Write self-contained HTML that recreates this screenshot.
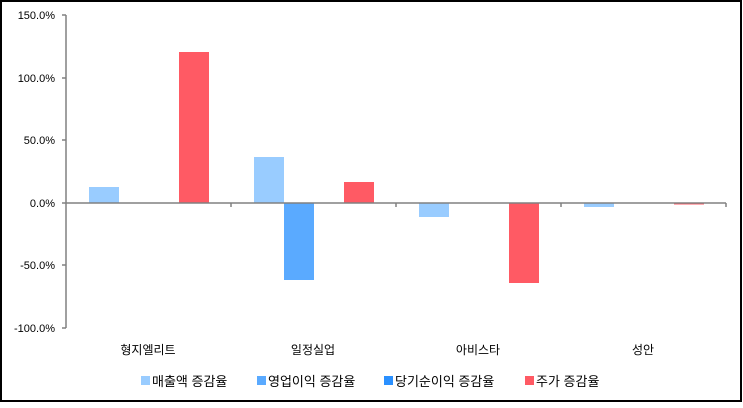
<!DOCTYPE html>
<html><head><meta charset="utf-8"><style>
html,body{margin:0;padding:0;background:#fff}
svg text{font-family:"Liberation Sans","Noto Sans CJK KR",sans-serif;fill:#000}
</style></head><body>
<svg width="743" height="403" xmlns="http://www.w3.org/2000/svg">
<rect x="1" y="1" width="740" height="400" fill="#fff" stroke="#000" stroke-width="2"/>
<g font-size="11" text-anchor="end">
<text x="55" y="19">150.0%</text>
<text x="55" y="82">100.0%</text>
<text x="55" y="144">50.0%</text>
<text x="55" y="207">0.0%</text>
<text x="55" y="269">-50.0%</text>
<text x="55" y="332">-100.0%</text>
</g>
<g stroke="#808080" stroke-width="1.5" fill="none">
<line x1="66" y1="15" x2="66" y2="328"/>
<line x1="62" y1="15" x2="66" y2="15"/>
<line x1="62" y1="78" x2="66" y2="78"/>
<line x1="62" y1="140" x2="66" y2="140"/>
<line x1="62" y1="203" x2="66" y2="203"/>
<line x1="62" y1="265" x2="66" y2="265"/>
<line x1="62" y1="328" x2="66" y2="328"/>
</g>
<rect x="89" y="187" width="30" height="16" fill="#99ccff"/>
<rect x="179" y="52" width="30" height="151" fill="#ff5a64"/>
<rect x="254" y="157" width="30" height="46" fill="#99ccff"/>
<rect x="284" y="203" width="30" height="77" fill="#5aaaff"/>
<rect x="344" y="182" width="30" height="21" fill="#ff5a64"/>
<rect x="419" y="203" width="30" height="14" fill="#99ccff"/>
<rect x="509" y="203" width="30" height="80" fill="#ff5a64"/>
<rect x="584" y="203" width="30" height="4" fill="#99ccff"/>
<rect x="674" y="203" width="30" height="1.5" fill="#ff5a64"/>
<g stroke="#808080" stroke-width="1.5">
<line x1="66" y1="203" x2="726" y2="203"/>
<line x1="231" y1="203" x2="231" y2="207"/>
<line x1="396" y1="203" x2="396" y2="207"/>
<line x1="561" y1="203" x2="561" y2="207"/>
<line x1="726" y1="203" x2="726" y2="207"/>
</g>
<g font-size="12" text-anchor="middle">
<text x="148" y="354">형지엘리트</text>
<text x="313" y="354">일정실업</text>
<text x="478" y="354">아비스타</text>
<text x="643" y="354">성안</text>
</g>
<g font-size="13">
<rect x="141" y="376" width="9" height="9" fill="#99ccff"/><text x="152" y="386">매출액 증감율</text>
<rect x="257" y="376" width="9" height="9" fill="#5aaaff"/><text x="268" y="386">영업이익 증감율</text>
<rect x="384" y="376" width="9" height="9" fill="#2a90ff"/><text x="395" y="386">당기순이익 증감율</text>
<rect x="525" y="376" width="9" height="9" fill="#ff5a64"/><text x="536" y="386">주가 증감율</text>
</g>
</svg>
</body></html>
